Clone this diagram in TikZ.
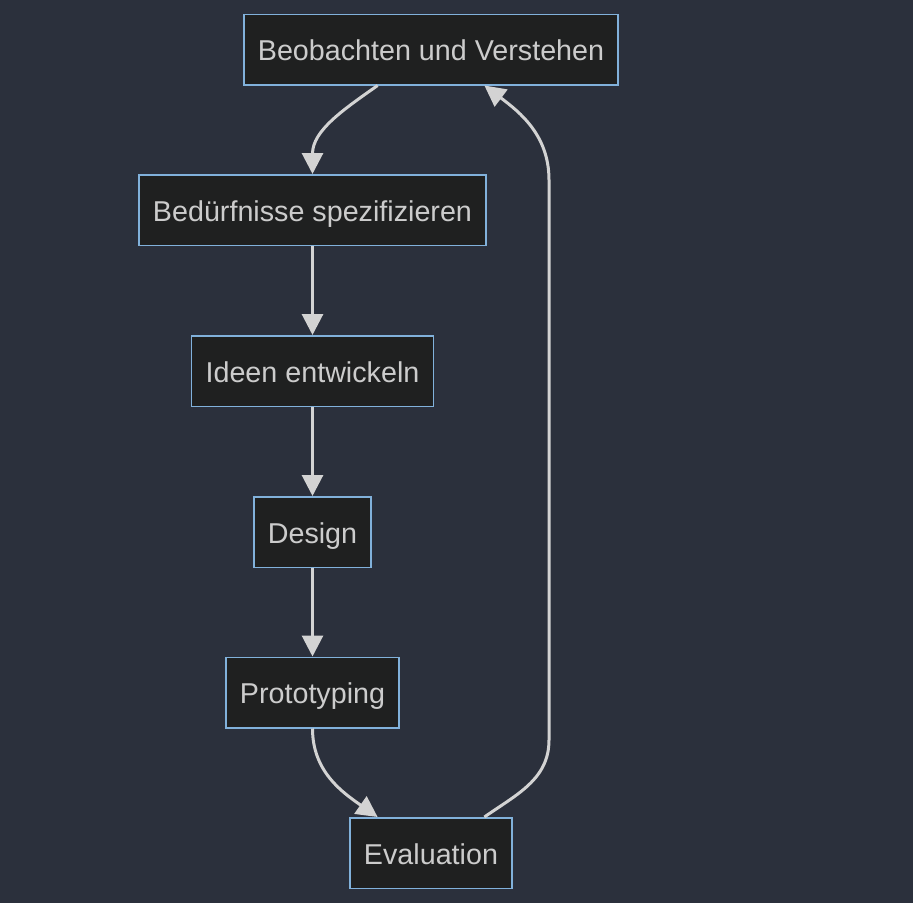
\documentclass[tikz,border=0pt]{standalone}
\usepackage{fontspec}
\setmainfont{Liberation Sans}
\usetikzlibrary{arrows.meta}
\definecolor{bgcol}{HTML}{2B303C}
\definecolor{boxfill}{HTML}{1F2020}
\definecolor{boxline}{HTML}{81B1DB}
\definecolor{txtcol}{HTML}{CCCCCC}
\definecolor{edgecol}{HTML}{D3D3D3}
\begin{document}
\begin{tikzpicture}[x=1pt,y=1pt,
		phase/.style={draw=boxline,line width=1.5pt,fill=boxfill,text=txtcol,rectangle,minimum height=70.5pt,inner xsep=14pt,inner ysep=0pt,text height=22.4pt,text depth=0pt,font=\fontsize{28.7}{34}\selectfont},
		flow/.style={draw=edgecol,line width=3pt,-{Triangle[length=21pt,width=21pt]}}]
			\fill[bgcol] (0,0) rectangle (913,-903);
			\useasboundingbox (0,0) rectangle (913,-903);
			\node[phase] (beob) at (431,-49.5) {Beobachten und Verstehen};
			\node[phase] (bed) at (312.5,-210) {Bedürfnisse spezifizieren};
			\node[phase] (ideen) at (312.5,-371) {Ideen entwickeln};
			\node[phase] (design) at (312.5,-532) {Design};
			\node[phase] (proto) at (312.5,-692.5) {Prototyping};
			\node[phase] (eval) at (431,-853) {Evaluation};
			\coordinate (loopbot) at (549,-740);
			\coordinate (looptop) at (549,-180);
			\draw[flow] (beob.214.3) to[out=215,in=90] (bed.north);
			\draw[flow] (bed) to (ideen);
			\draw[flow] (ideen) to (design);
			\draw[flow] (design) to (proto);
			\draw[flow] (proto.south) to[out=-90,in=145] (eval.146);
			\draw[flow] (eval.34) to[out=35,in=-90] (loopbot) -- (looptop) to[out=90,in=-37] (beob.326.7);
		\end{tikzpicture}
\end{document}
